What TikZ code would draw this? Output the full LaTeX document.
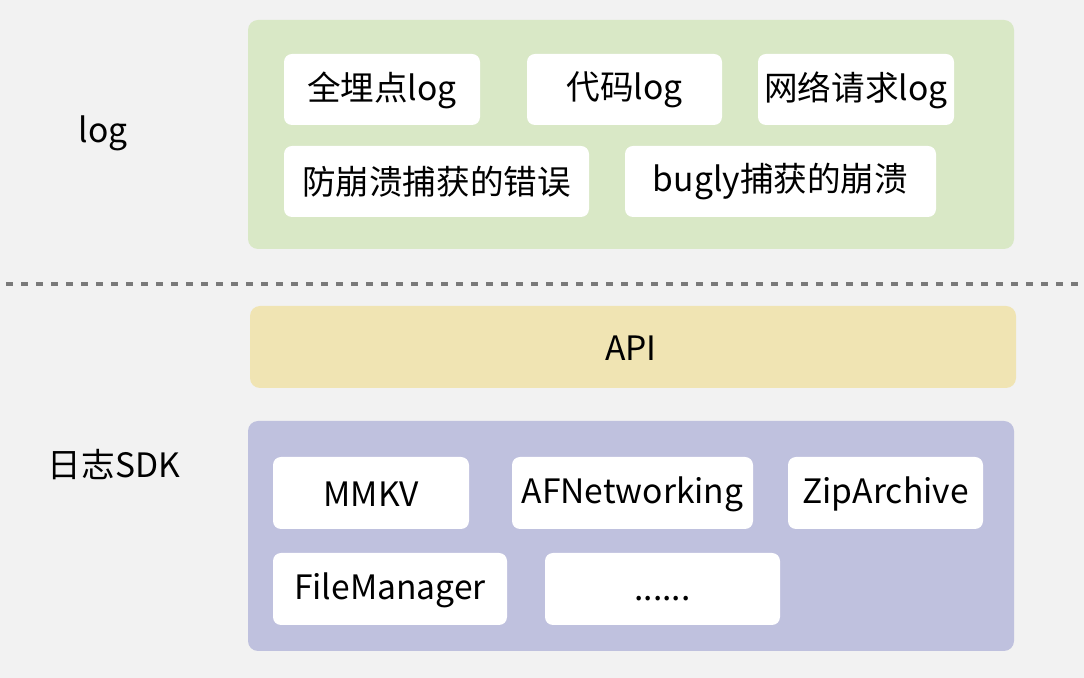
\documentclass[tikz,border=0pt]{standalone}
\usepackage{fontspec}
\setmainfont{Noto Sans CJK SC}
\definecolor{bgc}{HTML}{F2F2F2}
\definecolor{greenc}{HTML}{D9E8C6}
\definecolor{yellowc}{HTML}{F0E4B3}
\definecolor{purplec}{HTML}{BFC1DE}
\definecolor{dashc}{HTML}{7A7A7A}
\begin{document}
\begin{tikzpicture}[x=0.5pt,y=-0.5pt,
  panel/.style={rounded corners=5pt, draw=none},
  wbox/.style={fill=white, rounded corners=4pt, draw=none},
  txt/.style={font=\fontsize{16.8pt}{20pt}\selectfont, inner sep=0pt, text=black}]
\useasboundingbox (0,0) rectangle (1084,678);
\fill[bgc] (0,0) rectangle (1084,678);
% top panel
\fill[greenc, panel] (248,20) rectangle (1014,249);
\fill[wbox] (284,54) rectangle (480,125);
\fill[wbox] (527,54) rectangle (722,125);
\fill[wbox] (758,54) rectangle (954,125);
\fill[wbox] (284,146) rectangle (589,217);
\fill[wbox] (625,146) rectangle (936,217);
\node[txt] (n1) at (382,90) {全埋点log};
\node[txt] (n2) at (624.5,90) {代码log};
\node[txt] (n3) at (856,90) {网络请求log};
\node[txt] (n4) at (436.5,181.5) {防崩溃捕获的错误};
\node[txt] (n5) at (780.5,181.5) {bugly捕获的崩溃};
\node[txt] (loglab) at (103,133) {log};
% dashed separator
\coordinate (dl) at (6,284);
\coordinate (dr) at (1084,284);
\draw[dashc, line width=1.6pt, dash pattern=on 3.5pt off 4pt] (dl) -- (dr);
% API
\fill[yellowc, panel] (250,306) rectangle (1016,388);
\node[txt] (api) at (631,348) {API};
% SDK panel
\node[txt] (sdklab) at (114,465) {日志SDK};
\fill[purplec, panel] (248,421) rectangle (1014,651);
\fill[wbox] (273,457) rectangle (469,529);
\fill[wbox] (512,457) rectangle (753,529);
\fill[wbox] (788,457) rectangle (983,529);
\fill[wbox] (273,553) rectangle (507,625);
\fill[wbox] (545,553) rectangle (780,625);
\node[txt] (m1) at (371,494) {MMKV};
\node[txt] (m2) at (632.5,494) {AFNetworking};
\node[txt] (m3) at (885.5,494) {ZipArchive};
\node[txt] (m4) at (390,590) {FileManager};
\node[txt, anchor=base] (m5) at (662.5,601) {......};
\end{tikzpicture}
\end{document}
